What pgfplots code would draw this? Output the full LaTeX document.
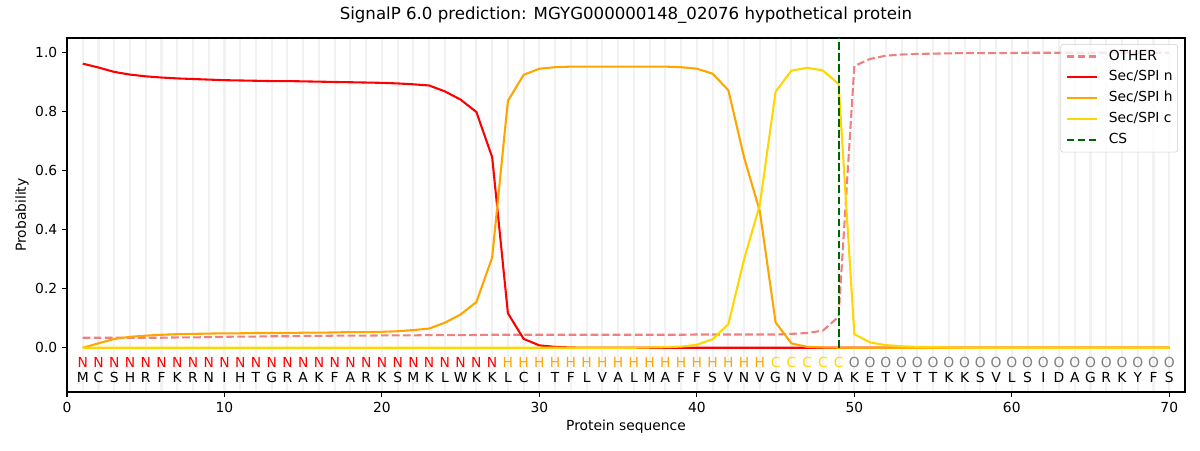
\documentclass[border=0pt]{standalone}
\usepackage{pgfplots}
\usepackage{pgfplotstable}
\pgfplotsset{compat=1.18}
\usepackage{fontspec}
\setmainfont{DejaVu Sans}
\definecolor{lcoral}{HTML}{F08080}
\definecolor{mpred}{HTML}{FF0000}
\definecolor{mporange}{HTML}{FFA500}
\definecolor{mpgold}{HTML}{FFD700}
\definecolor{mpdgreen}{HTML}{006400}
\definecolor{mpgray}{HTML}{808080}
\definecolor{gridc}{HTML}{F2F2F2}

\pgfplotstableread{
pos other n h c
1 0.034 0.963 0.000 0.000
2 0.034 0.950 0.015 0.000
3 0.034 0.935 0.030 0.000
4 0.034 0.926 0.037 0.000
5 0.034 0.920 0.041 0.000
6 0.034 0.916 0.044 0.000
7 0.035 0.913 0.046 0.000
8 0.035 0.911 0.047 0.000
9 0.036 0.909 0.048 0.000
10 0.037 0.907 0.049 0.000
11 0.038 0.906 0.049 0.000
12 0.038 0.905 0.050 0.000
13 0.039 0.904 0.050 0.000
14 0.039 0.904 0.050 0.000
15 0.040 0.903 0.051 0.000
16 0.040 0.902 0.051 0.000
17 0.041 0.901 0.052 0.000
18 0.041 0.900 0.053 0.000
19 0.041 0.899 0.053 0.000
20 0.042 0.898 0.054 0.000
21 0.042 0.896 0.056 0.000
22 0.042 0.893 0.060 0.000
23 0.043 0.889 0.065 0.000
24 0.043 0.869 0.085 0.000
25 0.043 0.841 0.113 0.000
26 0.043 0.799 0.155 0.000
27 0.044 0.646 0.306 0.000
28 0.044 0.117 0.837 0.000
29 0.044 0.030 0.925 0.000
30 0.044 0.008 0.946 0.000
31 0.044 0.003 0.951 0.000
32 0.044 0.001 0.953 0.000
33 0.044 0.000 0.953 0.000
34 0.044 0.000 0.953 0.000
35 0.044 0.000 0.953 0.000
36 0.044 0.000 0.953 0.000
37 0.044 0.000 0.953 0.001
38 0.044 0.000 0.953 0.002
39 0.044 0.000 0.951 0.004
40 0.045 0.000 0.946 0.010
41 0.045 0.000 0.929 0.029
42 0.045 0.000 0.873 0.080
43 0.045 0.000 0.645 0.300
44 0.045 0.000 0.462 0.485
45 0.045 0.000 0.086 0.868
46 0.047 0.000 0.015 0.939
47 0.050 0.000 0.003 0.949
48 0.058 0.000 0.001 0.940
49 0.105 0.000 0.000 0.894
50 0.955 0.000 0.000 0.046
51 0.979 0.000 0.000 0.018
52 0.990 0.000 0.000 0.009
53 0.994 0.000 0.000 0.005
54 0.996 0.000 0.000 0.003
55 0.997 0.000 0.000 0.002
56 0.998 0.000 0.000 0.001
57 0.999 0.000 0.000 0.000
58 0.999 0.000 0.000 0.000
59 0.999 0.000 0.000 0.000
60 0.999 0.000 0.000 0.000
61 1.000 0.000 0.000 0.000
62 1.000 0.000 0.000 0.000
63 1.000 0.000 0.000 0.000
64 1.000 0.000 0.000 0.000
65 1.000 0.000 0.000 0.000
66 1.000 0.000 0.000 0.000
67 1.000 0.000 0.000 0.000
68 1.000 0.000 0.000 0.000
69 1.000 0.000 0.000 0.000
70 1.000 0.000 0.000 0.000
}\sigtable

\begin{document}
\begin{tikzpicture}
\begin{axis}[
  scale only axis,
  width=11.18in, height=3.54in,
  xmin=0, xmax=71, ymin=-0.15, ymax=1.05,
  xtick={0,10,...,70},
  ytick={0,0.2,0.4,0.6,0.8,1.0},
  minor xtick={1,...,70},
  xminorgrids,
  minor grid style={gridc, line width=1.5bp},
  minor tick length=0pt,
  tick align=outside,
  tick pos=left,
  major tick length=3.5bp,
  every tick/.style={black, line width=0.8bp},
  axis line style={line width=0.8bp},
  /pgf/number format/assume math mode=true,
  yticklabel style={/pgf/number format/.cd, fixed, fixed zerofill, precision=1},
  xlabel={Protein sequence},
  ylabel={Probability},
  xlabel style={at={(axis description cs:0.5,-0.099)}, anchor=center},
  ylabel style={at={(axis description cs:-0.0403,0.5)}, anchor=center},
  title={SignalP 6.0 prediction: MGYG000000148\_02076 hypothetical protein},
  title style={at={(axis description cs:0.5,1.042)}, anchor=center, font=\fontsize{12}{14}\selectfont},
  legend cell align=left,
  legend image code/.code={\draw[#1] (0pt,0pt) -- (0.30in,0pt);},
  legend style={at={(axis description cs:0.9937,0.983)}, anchor=north east,
    draw=black!18, rounded corners=2pt, fill=white, fill opacity=0.8, text opacity=1,
    inner xsep=3.6pt, inner ysep=4pt, row sep=5.5pt,
    nodes={inner sep=0pt, text height=7.4pt, text depth=2.2pt},
    /tikz/every odd column/.append style={column sep=8pt},
    font=\fontsize{10}{12}\selectfont},
]
\addplot[lcoral, line width=1.5bp, dash pattern=on 5.55bp off 2.4bp] table[x=pos, y=other] {\sigtable};
\addlegendentry{OTHER}
\addplot[mpred, line width=1.5bp] table[x=pos, y=n] {\sigtable};
\addlegendentry{Sec/SPI n}
\addplot[mporange, line width=1.5bp] table[x=pos, y=h] {\sigtable};
\addlegendentry{Sec/SPI h}
\addplot[mpgold, line width=1.5bp] table[x=pos, y=c] {\sigtable};
\addlegendentry{Sec/SPI c}
\addplot[mpdgreen, line width=1.5bp, dash pattern=on 5.55bp off 2.4bp] coordinates {(49,0) (49,1.05)};
\addlegendentry{CS}

\foreach \i in {1,...,27}{\edef\tmp{\noexpand\node[text=mpred] at (axis cs:\i,-0.05) {N};}\tmp}
\foreach \i in {28,...,44}{\edef\tmp{\noexpand\node[text=mporange] at (axis cs:\i,-0.05) {H};}\tmp}
\foreach \i in {45,...,49}{\edef\tmp{\noexpand\node[text=mpgold] at (axis cs:\i,-0.05) {C};}\tmp}
\foreach \i in {50,...,70}{\edef\tmp{\noexpand\node[text=mpgray] at (axis cs:\i,-0.05) {O};}\tmp}
\foreach \l [count=\i] in {M,C,S,H,R,F,K,R,N,I,H,T,G,R,A,K,F,A,R,K,S,M,K,L,W,K,K,L,C,I,T,F,L,V,A,L,M,A,F,F,S,V,N,V,G,N,V,D,A,K,E,T,V,T,T,K,K,S,V,L,S,I,D,A,G,R,K,Y,F,S}{\edef\tmp{\noexpand\node[text=black] at (axis cs:\i,-0.1) {\l};}\tmp}
\end{axis}
\pgfresetboundingbox
\path ([shift={(-0.67in,-0.58in)}]current axis.south west) rectangle ([shift={(0.15in,0.38in)}]current axis.north east);
\end{tikzpicture}
\end{document}
